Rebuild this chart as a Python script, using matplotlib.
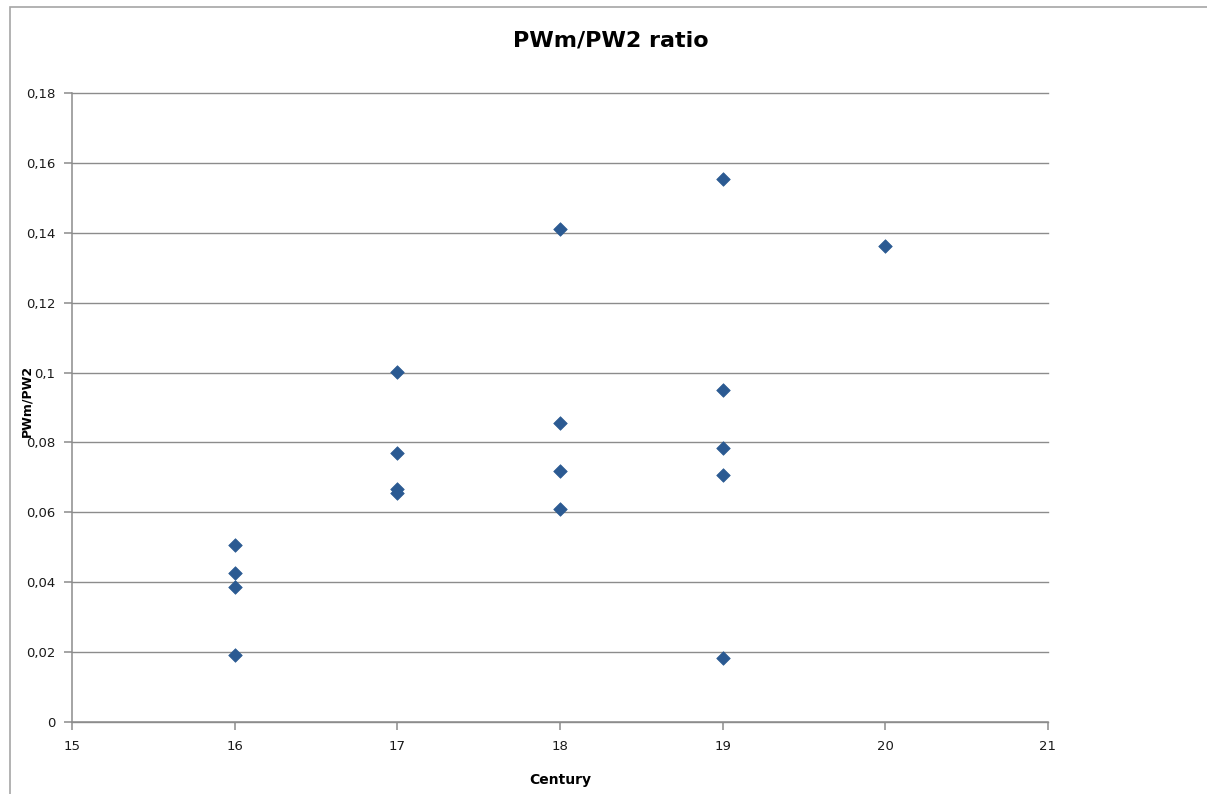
import matplotlib.pyplot as plt
from matplotlib.ticker import FuncFormatter, MultipleLocator
from matplotlib.patches import Rectangle

# ratio values per century
century = [16, 16, 16, 16,
           17, 17, 17, 17,
           18, 18, 18, 18,
           19, 19, 19, 19, 19,
           20]
ratio = [0.0507, 0.0426, 0.0386, 0.0192,
         0.1002, 0.0770, 0.0667, 0.0655,
         0.1411, 0.0856, 0.0718, 0.0610,
         0.1554, 0.0950, 0.0784, 0.0707, 0.0183,
         0.1362]

W, H = 1207, 794
fig = plt.figure(figsize=(W / 100, H / 100), dpi=100)
fig.patch.set_facecolor('white')

# outer chart frame
fig.patches.append(Rectangle((10 / W, -0.05), 1.2, (794 - 7) / H + 0.05,
                             transform=fig.transFigure, fill=False,
                             edgecolor='#a6a6a6', linewidth=1.2))

ax = fig.add_axes([72 / W, (H - 722) / H, (1048 - 72) / W, (722 - 93) / H])
ax.scatter(century, ratio, marker='D', s=48, color='#2B5A92',
           edgecolors='#2B5A92', linewidths=0.5, zorder=3, clip_on=False)

ax.set_xlim(15, 21)
ax.set_ylim(0, 0.18)
ax.xaxis.set_major_locator(MultipleLocator(1))
ax.yaxis.set_major_locator(MultipleLocator(0.02))
fmt = FuncFormatter(lambda v, p: f"{round(v, 2):g}".replace('.', ','))
ax.yaxis.set_major_formatter(fmt)

ax.grid(axis='y', color='#8c8c8c', linewidth=1.0, clip_on=False)
ax.set_axisbelow(True)
for side in ('top', 'right'):
    ax.spines[side].set_visible(False)
for side in ('left', 'bottom'):
    ax.spines[side].set_color('#8c8c8c')
    ax.spines[side].set_linewidth(1.1)
ax.tick_params(axis='both', direction='out', length=6, width=1.1,
               color='#8c8c8c', labelsize=9.5, labelcolor='#1a1a1a')
ax.tick_params(axis='y', pad=6)
ax.tick_params(axis='x', pad=7)

fig.text(0.506, 0.949, 'PWm/PW2 ratio', ha='center', va='center',
         fontsize=16, fontweight='bold')
fig.text(560 / W, 1 - 780 / H, 'Century', ha='center', va='center',
         fontsize=10, fontweight='bold')
fig.text(27 / W, 1 - 401 / H, 'PWm/PW2', ha='center', va='center',
         rotation=90, fontsize=9, fontweight='bold')

fig.savefig('out.png', dpi=100)
